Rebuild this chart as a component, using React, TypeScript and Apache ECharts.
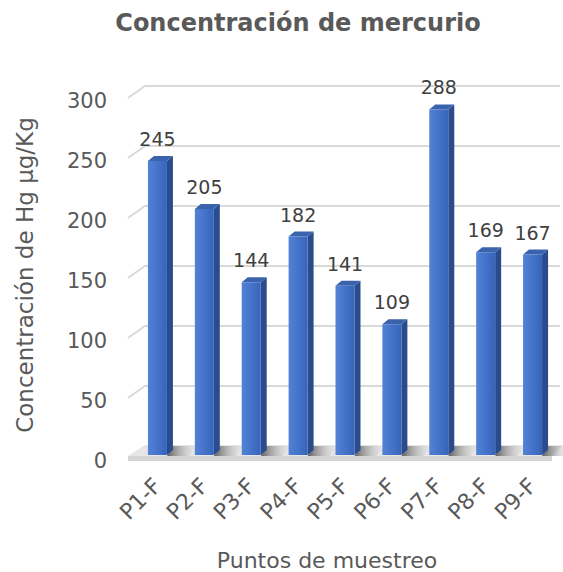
import React, { useEffect, useRef } from "react";
import * as echarts from "echarts";

const categories = ["P1-F", "P2-F", "P3-F", "P4-F", "P5-F", "P6-F", "P7-F", "P8-F", "P9-F"];
const values = [245, 205, 144, 182, 141, 109, 288, 169, 167];
const yTicks = [0, 50, 100, 150, 200, 250, 300];
const titleText = "Concentración de mercurio";
const yAxisTitle = "Concentración de Hg µg/Kg";
const xAxisTitle = "Puntos de muestreo";

const FONT = "DejaVu Sans, Verdana, sans-serif";

export default function App() {
  const ref = useRef<HTMLDivElement>(null);
  useEffect(() => {
    if (!ref.current) return;
    const chart = echarts.init(ref.current, null, { renderer: "svg" });
    const option: any = {
      animation: false,
      backgroundColor: "#ffffff",
      textStyle: { fontFamily: FONT },
      grid: { left: 134, right: 7, top: 95, bottom: 117, containLabel: false },
      graphic: [
        {
          type: "text",
          x: 298,
          y: 23,
          style: {
            text: titleText,
            fill: "#595959",
            font: "bold 24px " + FONT,
            textAlign: "center",
            textVerticalAlign: "middle",
          },
        },
        {
          type: "text",
          x: 327,
          y: 560,
          style: {
            text: xAxisTitle,
            fill: "#595959",
            font: "22px " + FONT,
            textAlign: "center",
            textVerticalAlign: "middle",
          },
        },
      ],
      xAxis: {
        type: "category",
        data: categories,
        axisLine: { show: false },
        axisTick: { show: false },
        axisLabel: {
          rotate: 45,
          fontSize: 22,
          color: "#595959",
          margin: 27,
          fontFamily: FONT,
          interval: 0,
        },
        splitLine: { show: false },
      },
      yAxis: {
        type: "value",
        min: 0,
        max: 300,
        interval: 50,
        name: yAxisTitle,
        nameLocation: "middle",
        nameGap: 98,
        nameTextStyle: { fontSize: 23, color: "#595959", fontFamily: FONT },
        axisLine: { show: false },
        axisTick: { show: false },
        splitLine: { show: false },
        axisLabel: {
          fontSize: 21,
          color: "#595959",
          margin: 27,
          fontFamily: FONT,
          verticalAlign: "top",
          lineHeight: 12,
        },
      },
      series: [
        {
          type: "custom",
          silent: true,
          data: yTicks.map((v) => [0, v]),
          encode: { x: 0, y: 1 },
          renderItem: (params: any, api: any) => {
            const cs = params.coordSys;
            const v = api.value(1);
            const y = api.coord([0, v])[1];
            const left = cs.x;
            const right = 560;
            const children: any[] = [];
            if (v === 0) {
              children.push({
                type: "polygon",
                shape: {
                  points: [
                    [left - 6, y + 1],
                    [left + 11, y - 10],
                    [right + 3, y - 10],
                    [right - 8, y + 1],
                  ],
                },
                style: { fill: "#e6e6e6" },
              });
              children.push({
                type: "polygon",
                shape: {
                  points: [
                    [left - 6, y + 1],
                    [right - 8, y + 1],
                    [right - 8, y + 6],
                    [left - 6, y + 6],
                  ],
                },
                style: { fill: "#d4d4d4" },
              });
            } else {
              children.push({
                type: "polyline",
                shape: {
                  points: [
                    [left - 6, y + 3],
                    [left + 11, y - 9],
                    [right, y - 9],
                  ],
                },
                style: { stroke: "#d9d9d9", lineWidth: 2, fill: "none" },
              });
            }
            return { type: "group", children };
          },
          z: 1,
        },
        {
          type: "custom",
          data: values.map((v, i) => [i, v]),
          encode: { x: 0, y: 1 },
          renderItem: (params: any, api: any) => {
            const idx = api.value(0);
            const v = api.value(1);
            const top = api.coord([idx, v]);
            const base = api.coord([idx, 0]);
            const cx = top[0];
            const yt = top[1];
            const y0 = base[1];
            const hw = 9.5;
            const dx = 6;
            const dy = 5;
            return {
              type: "group",
              children: [
                {
                  type: "polygon",
                  shape: {
                    points: [
                      [cx + hw, y0 + 1],
                      [cx + hw + 22, y0 + 1],
                      [cx + hw + 30, y0 - 9],
                      [cx + hw + dx, y0 - 9],
                    ],
                  },
                  style: {
                    fill: new echarts.graphic.LinearGradient(0, 0, 1, 0, [
                      { offset: 0, color: "rgba(70,70,70,0.85)" },
                      { offset: 1, color: "rgba(200,200,200,0)" },
                    ]),
                  },
                },
                {
                  type: "polygon",
                  shape: {
                    points: [
                      [cx + hw, yt],
                      [cx + hw + dx, yt - dy],
                      [cx + hw + dx, y0 - dy],
                      [cx + hw, y0],
                    ],
                  },
                  style: { fill: "#2b4c8c" },
                },
                {
                  type: "polygon",
                  shape: {
                    points: [
                      [cx - hw, yt],
                      [cx - hw + dx, yt - dy],
                      [cx + hw + dx, yt - dy],
                      [cx + hw, yt],
                    ],
                  },
                  style: { fill: "#3a62ad" },
                },
                {
                  type: "rect",
                  shape: { x: cx - hw, y: yt, width: hw * 2, height: y0 - yt },
                  style: {
                    fill: new echarts.graphic.LinearGradient(0, 0, 1, 0, [
                      { offset: 0, color: "#5282d6" },
                      { offset: 0.5, color: "#4473c9" },
                      { offset: 1, color: "#3564ba" },
                    ]),
                  },
                },
                {
                  type: "text",
                  x: cx,
                  y: yt - 22,
                  style: {
                    text: String(v),
                    fill: "#404040",
                    font: "19px " + FONT,
                    textAlign: "center",
                    textVerticalAlign: "middle",
                  },
                },
              ],
            };
          },
          z: 2,
        },
      ],
    };
    chart.setOption(option);
    return () => chart.dispose();
  }, []);
  return (
    <div
      ref={ref}
      style={{ position: "fixed", left: 0, top: 0, width: 563, height: 572 }}
    />
  );
}
